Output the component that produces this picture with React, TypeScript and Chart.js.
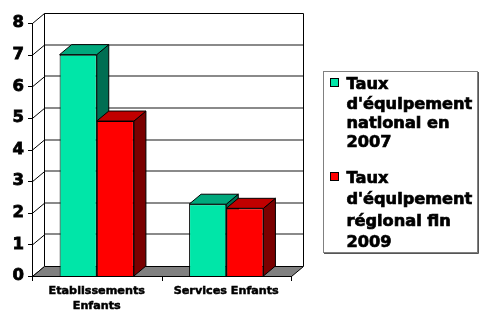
import React, { useEffect, useRef } from "react";
import { Chart, registerables } from "chart.js";

Chart.register(...registerables);

// ---- data ----
const categories: (string | string[])[] = [["Etablissements", "Enfants"], "Services Enfants"];
const seriesNames = ["Taux d'équipement national en 2007", "Taux d'équipement régional fin 2009"];
const legendLines = [
  ["Taux", "d'équipement", "national en", "2007"],
  ["Taux", "d'équipement", "régional fin", "2009"],
];
const national2007 = [7, 2.27];
const regional2009 = [4.9, 2.14];
const yMin = 0;
const yMax = 8;
const yStep = 1;

// ---- styles ----
const FONT = "'DejaVu Sans', Verdana, sans-serif";
const DX = 12;
const DY = -10;
const faceColors = [
  { front: "#00E6A8", top: "#00A87C", side: "#006E52" },
  { front: "#FF0000", top: "#C00000", side: "#7A0000" },
];

const threeD = {
  id: "threeD",
  beforeDatasetsDraw(chart: any) {
    const { ctx, chartArea: a, scales } = chart;
    const y = scales.y;
    const x = scales.x;
    ctx.save();
    // back wall
    ctx.fillStyle = "#ffffff";
    ctx.fillRect(a.left + DX, a.top + DY, a.right - a.left, a.bottom - a.top);
    // gridlines on back wall
    ctx.strokeStyle = "#8a8a8a";
    ctx.lineWidth = 2;
    for (let v = yMin + yStep; v < yMax; v += yStep) {
      const py = Math.round(y.getPixelForValue(v) + DY);
      ctx.beginPath();
      ctx.moveTo(a.left + DX, py);
      ctx.lineTo(a.right + DX, py);
      ctx.stroke();
    }
    // back wall border
    ctx.strokeStyle = "#000";
    ctx.lineWidth = 1;
    ctx.beginPath();
    ctx.moveTo(a.left + DX + 0.5, a.bottom + DY);
    ctx.lineTo(a.left + DX + 0.5, a.top + DY + 0.5);
    ctx.lineTo(a.right + DX + 0.5, a.top + DY + 0.5);
    ctx.lineTo(a.right + DX + 0.5, a.bottom + DY);
    ctx.stroke();
    // side wall: front vertical + diagonals + ticks
    ctx.beginPath();
    ctx.moveTo(a.left + 0.5, a.top);
    ctx.lineTo(a.left + 0.5, a.bottom);
    ctx.stroke();
    for (let v = yMin; v <= yMax; v += yStep) {
      const py = y.getPixelForValue(v);
      ctx.beginPath();
      ctx.moveTo(a.left + 0.5, py + 0.5);
      ctx.lineTo(a.left + DX + 0.5, py + DY + 0.5);
      ctx.stroke();
      ctx.beginPath();
      ctx.moveTo(a.left - 4, Math.round(py) + 0.5);
      ctx.lineTo(a.left + 0.5, Math.round(py) + 0.5);
      ctx.stroke();
    }
    // floor
    const fb = y.getPixelForValue(yMin);
    ctx.fillStyle = "#808080";
    ctx.beginPath();
    ctx.moveTo(a.left + 0.5, fb + 0.5);
    ctx.lineTo(a.right + 0.5, fb + 0.5);
    ctx.lineTo(a.right + DX + 0.5, fb + DY + 0.5);
    ctx.lineTo(a.left + DX + 0.5, fb + DY + 0.5);
    ctx.closePath();
    ctx.fill();
    ctx.stroke();
    // category ticks on floor front edge
    const n = chart.data.labels.length;
    const bounds: number[] = [a.left];
    for (let i = 0; i < n - 1; i++) {
      bounds.push((x.getPixelForValue(i) + x.getPixelForValue(i + 1)) / 2);
    }
    bounds.push(a.right);
    for (const bx of bounds) {
      ctx.beginPath();
      ctx.moveTo(Math.round(bx) + 0.5, fb);
      ctx.lineTo(Math.round(bx) + 0.5, fb + 5);
      ctx.stroke();
    }
    // bar tops and sides
    for (let j = 0; j < n; j++) {
      chart.data.datasets.forEach((ds: any, i: number) => {
        const el = chart.getDatasetMeta(i).data[j];
        if (!el) return;
        const p = el.getProps(["x", "y", "base", "width"], true);
        const l = p.x - p.width / 2;
        const r = p.x + p.width / 2;
        const t = p.y;
        const b = p.base;
        const c = faceColors[i];
        ctx.strokeStyle = "#000";
        ctx.lineWidth = 1;
        // side
        ctx.fillStyle = c.side;
        ctx.beginPath();
        ctx.moveTo(r, t);
        ctx.lineTo(r + DX, t + DY);
        ctx.lineTo(r + DX, b + DY);
        ctx.lineTo(r, b);
        ctx.closePath();
        ctx.fill();
        ctx.stroke();
        // top
        ctx.fillStyle = c.top;
        ctx.beginPath();
        ctx.moveTo(l, t);
        ctx.lineTo(r, t);
        ctx.lineTo(r + DX, t + DY);
        ctx.lineTo(l + DX, t + DY);
        ctx.closePath();
        ctx.fill();
        ctx.stroke();
      });
    }
    ctx.restore();
  },
  afterDraw(chart: any) {
    const { ctx } = chart;
    ctx.save();
    // legend box
    ctx.fillStyle = "#fff";
    ctx.fillRect(323, 71, 155, 182);
    ctx.strokeStyle = "#808080";
    ctx.lineWidth = 1;
    ctx.strokeRect(323.5, 71.5, 154, 181);
    ctx.strokeStyle = "#555";
    ctx.beginPath();
    ctx.moveTo(478.5, 72);
    ctx.lineTo(478.5, 253.5);
    ctx.lineTo(324, 253.5);
    ctx.stroke();
    const baselines = [89.3, 182.5];
    const lineH = [19.3, 21.5];
    ctx.font = `bold 16.2px ${FONT}`;
    ctx.textBaseline = "alphabetic";
    ctx.textAlign = "left";
    chart.data.datasets.forEach((ds: any, i: number) => {
      const b0 = baselines[i];
      const sy = Math.round(b0 - 11);
      ctx.fillStyle = ds.backgroundColor;
      ctx.fillRect(330, sy, 9, 9);
      ctx.strokeStyle = "#000";
      ctx.lineWidth = 1;
      ctx.strokeRect(330.5, sy + 0.5, 8, 8);
      ctx.fillStyle = "#000";
      ctx.lineWidth = 0.7;
      legendLines[i].forEach((line, k) => {
        ctx.fillText(line, 346.5, b0 + k * lineH[i]);
        ctx.strokeText(line, 346.5, b0 + k * lineH[i]);
      });
    });
    ctx.restore();
  },
};

export default function App() {
  const ref = useRef<HTMLCanvasElement | null>(null);
  useEffect(() => {
    if (!ref.current) return;
    const chart = new Chart(ref.current, {
      type: "bar",
      data: {
        labels: categories as any,
        datasets: [
          {
            label: seriesNames[0],
            data: national2007,
            backgroundColor: faceColors[0].front,
            borderColor: "#000",
            borderWidth: 1,
            categoryPercentage: 0.574,
            barPercentage: 1,
          },
          {
            label: seriesNames[1],
            data: regional2009,
            backgroundColor: faceColors[1].front,
            borderColor: "#000",
            borderWidth: 1,
            categoryPercentage: 0.574,
            barPercentage: 1,
          },
        ],
      },
      options: {
        animation: false,
        responsive: true,
        maintainAspectRatio: false,
        layout: { padding: { top: 23, right: 189, left: 0, bottom: 0 } },
        plugins: {
          legend: { display: false },
          tooltip: { enabled: false },
          title: { display: false },
        },
        scales: {
          x: {
            grid: { display: false, drawTicks: false },
            border: { display: false },
            ticks: {
              color: "#000",
              font: { family: FONT, weight: "bold", size: 11.2, lineHeight: 1.3 },
              padding: 8,
              maxRotation: 0,
              autoSkip: false,
              textStrokeColor: "#000",
              textStrokeWidth: 0.5,
            },
            afterFit: (s: any) => {
              s.height = 35;
            },
          },
          y: {
            min: yMin,
            max: yMax,
            grid: { display: false, drawTicks: false },
            border: { display: false },
            ticks: {
              stepSize: yStep,
              color: "#000",
              font: { family: FONT, weight: "bold", size: 16.5 },
              padding: 8,
              textStrokeColor: "#000",
              textStrokeWidth: 0.8,
            },
            afterFit: (s: any) => {
              s.width = 32;
            },
          },
        },
      },
      plugins: [threeD],
    });
    return () => chart.destroy();
  }, []);
  return (
    <div style={{ position: "fixed", left: 0, top: 0, width: 480, height: 311, background: "#fff" }}>
      <canvas ref={ref} />
    </div>
  );
}
